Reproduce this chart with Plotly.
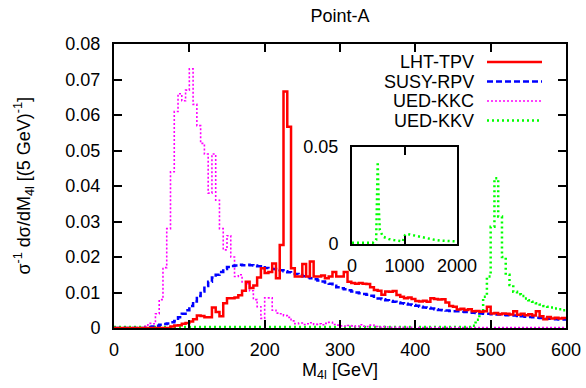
import plotly.graph_objects as go

# ---------------- data (5 GeV bins, left edges 0..595) ----------------
bin_left = list(range(0, 600, 5))

lht_tpv = [
    0, 0, 0, 0, 0, 0, 0, 0, 0, 0,
    0, 0, 0, 0, 0, 0.0004, 0.0007, 0.0008, 0.0012, 0.0014,
    0.0018, 0.0025, 0.0035, 0.0034, 0.003, 0.003, 0.0058, 0.0045, 0.0033, 0.007,
    0.0084, 0.0084, 0.0086, 0.0092, 0.0105, 0.013, 0.0113, 0.012, 0.0142, 0.0168,
    0.0155, 0.0158, 0.0182, 0.014, 0.0234, 0.0666, 0.0567, 0.0168, 0.0145, 0.0145,
    0.018, 0.0145, 0.0187, 0.0145, 0.0145, 0.0148, 0.014, 0.0145, 0.0158, 0.0145,
    0.0145, 0.0158, 0.013, 0.0127, 0.0125, 0.0127, 0.0125, 0.0124, 0.0115, 0.0107,
    0.0105, 0.0094, 0.0103, 0.0102, 0.0104, 0.0093, 0.0088, 0.0084, 0.0086, 0.0082,
    0.0076, 0.0075, 0.0077, 0.0074, 0.0084, 0.0082, 0.008, 0.0081, 0.0072, 0.0062,
    0.006, 0.0052, 0.0054, 0.0051, 0.0053, 0.0047, 0.0048, 0.0046, 0.0047, 0.006,
    0.0041, 0.0042, 0.0039, 0.0041, 0.004, 0.0038, 0.0047, 0.0037, 0.004, 0.0036,
    0.0039, 0.0035, 0.0047, 0.0033, 0.0025, 0.0031, 0.0027, 0.0029, 0.0027, 0.0028,
]

susy_rpv = [
    0, 0, 0, 0, 0, 0, 0, 0, 0, 0.0002,
    0.0004, 0.0006, 0.0009, 0.0011, 0.0013, 0.0016, 0.002, 0.003, 0.004, 0.005,
    0.0062, 0.0075, 0.009, 0.0103, 0.0118, 0.013, 0.0142, 0.015, 0.0158, 0.0166,
    0.0172, 0.0175, 0.0176, 0.0178, 0.0177, 0.0178, 0.0177, 0.0176, 0.0174, 0.0171,
    0.0169, 0.0167, 0.0166, 0.0165, 0.0163, 0.016, 0.0157, 0.0155, 0.0152, 0.0149,
    0.0146, 0.0143, 0.014, 0.0137, 0.0134, 0.0131, 0.0128, 0.0125, 0.0119, 0.0115,
    0.0112, 0.0109, 0.0106, 0.0103, 0.01, 0.0098, 0.0096, 0.0094, 0.0091, 0.0088,
    0.0083, 0.0081, 0.0078, 0.0076, 0.0074, 0.0072, 0.007, 0.0068, 0.0066, 0.0065,
    0.0063, 0.006, 0.0058, 0.0057, 0.0055, 0.0053, 0.0051, 0.005, 0.0049, 0.0048,
    0.0047, 0.0047, 0.0046, 0.0045, 0.0044, 0.0043, 0.0042, 0.0041, 0.004, 0.004,
    0.0039, 0.0038, 0.0038, 0.0037, 0.0036, 0.0035, 0.0035, 0.0034, 0.0033, 0.0032,
    0.0031, 0.003, 0.0029, 0.0028, 0.0027, 0.0026, 0.0025, 0.0025, 0.0024, 0.0024,
]

ued_kkc = [
    0, 0, 0, 0, 0, 0, 0, 0, 0.0005, 0.0013,
    0.0012, 0.004, 0.008, 0.017, 0.028, 0.044, 0.061, 0.066, 0.064, 0.067,
    0.073, 0.063, 0.057, 0.052, 0.049, 0.038, 0.049, 0.036, 0.028, 0.022,
    0.026, 0.02, 0.0145, 0.015, 0.013, 0.0125, 0.0105, 0.008, 0.006, 0.0027,
    0.0085, 0.0085, 0.005, 0.0042, 0.004, 0.0035, 0.003, 0.002, 0.0012, 0.0014,
    0.001, 0.0012, 0.0015, 0.001, 0.0012, 0.0009, 0.0013, 0.0016, 0.001, 0.0008,
    0.0006, 0.0005, 0.0007, 0.0006, 0.0004, 0.0009, 0.0005, 0.0004, 0.0008, 0.0004,
    0.0003, 0.0004, 0.0003, 0.0002, 0.0002, 0.0002, 0.0002, 0.0002, 0.0002, 0.0002,
    0.0001, 0.0001, 0.0001, 0.0001, 0.0001, 0.0001, 0.0001, 0.0001, 0.0001, 0.0001,
    0.0001, 0.0001, 0.0001, 0.0001, 0.0001, 0.0001, 0.0001, 0.0001, 0.0001, 0.0001,
    0.0001, 0.0001, 0.0001, 0.0001, 0.0001, 0.0001, 0.0001, 0.0001, 0.0001, 0.0001,
    0.0001, 0.0001, 0.0001, 0.0001, 0.0001, 0.0001, 0.0001, 0.0001, 0.0001, 0.0001,
]

# UED-KKV: flat tail below 475 GeV given as one wide bin, then 5 GeV bins
kkv_left = [0, 475, 480, 485, 490, 495, 500, 505, 510, 515, 520, 525, 530, 535,
            540, 545, 550, 555, 560, 565, 570, 575, 580, 585, 590, 595]
ued_kkv = [0.0003, 0.0006, 0.0023, 0.0046, 0.0088, 0.0145, 0.0285, 0.0422, 0.0314,
           0.02, 0.015, 0.0121, 0.0102, 0.0095, 0.009, 0.0083, 0.0078, 0.0074,
           0.007, 0.0066, 0.0062, 0.006, 0.0058, 0.0055, 0.0053, 0.005]

# inset: UED-KKV over full mass range
inset_m = [0, 100, 200, 300, 400, 460, 490, 510, 530, 590, 700, 800, 880, 970,
           990, 1040, 1100, 1230, 1420, 1550, 1680, 1800, 1970, 2000]
inset_kkv = [0.0006, 0.0006, 0.0006, 0.0006, 0.0007, 0.002, 0.0424, 0.019, 0.0072,
             0.0038, 0.0026, 0.002, 0.0017, 0.0014, 0.004, 0.0052, 0.0049, 0.0041,
             0.0029, 0.0023, 0.0018, 0.0015, 0.0013, 0.0013]

y_ticks = [0, 0.01, 0.02, 0.03, 0.04, 0.05, 0.06, 0.07, 0.08]
y_ticktext = ["0", "0.01", "0.02", "0.03", "0.04", "0.05", "0.06", "0.07", "0.08"]
x_ticks = [0, 100, 200, 300, 400, 500, 600]

series_names = ["LHT-TPV", "SUSY-RPV", "UED-KKC", "UED-KKV"]
series_colors = ["#ff0000", "#0000ff", "#ff00ff", "#00ff00"]
series_dash = ["solid", "6px,3px", "2px,2px", "2px,3px"]
series_width = [2.5, 2.5, 1.6, 2.5]

# ---------------- figure ----------------
FONT = "Liberation Sans, Arial, Helvetica, sans-serif"


def steps(left, vals, right_end):
    return left + [right_end], vals + [vals[-1]]


fig = go.Figure()
main_sets = [
    (bin_left, lht_tpv),
    (bin_left, susy_rpv),
    (bin_left, ued_kkc),
    (kkv_left, ued_kkv),
]
# draw order: KKV, KKC, SUSY, LHT (red on top)
for i in [3, 2, 1, 0]:
    xs, ys = steps(main_sets[i][0], main_sets[i][1], 600)
    fig.add_trace(go.Scatter(
        x=xs, y=ys, mode="lines", line_shape="hv", name=series_names[i],
        line=dict(color=series_colors[i], width=series_width[i], dash=series_dash[i]),
        showlegend=False, xaxis="x", yaxis="y",
    ))

fig.add_trace(go.Scatter(
    x=inset_m, y=inset_kkv, mode="lines", name="UED-KKV (full range)",
    line=dict(color=series_colors[3], width=2.5, dash=series_dash[3]),
    showlegend=False, xaxis="x2", yaxis="y2",
))

L, R, T, B = 114, 20, 44, 60
W, H = 586, 388
pw, ph = W - L - R, H - T - B


def px_to_paper_x(px):
    return (px - L) / pw


def px_to_paper_y(py):
    return (H - B - py) / ph


axis_common = dict(
    showline=True, linecolor="black", linewidth=2, mirror="ticks",
    ticks="inside", ticklen=8, tickwidth=1.5, tickcolor="black",
    showgrid=False, zeroline=False, automargin=False,
    tickfont=dict(family=FONT, size=18, color="black"),
)

fig.update_layout(
    width=W, height=H,
    margin=dict(l=L, r=R, t=T, b=B, autoexpand=False),
    paper_bgcolor="white", plot_bgcolor="white",
    font=dict(family=FONT, size=18, color="black"),
    title=dict(text="Point-A", x=0.5, xref="paper", y=1 - 16 / H, yref="container",
               xanchor="center", yanchor="middle",
               font=dict(family=FONT, size=18, color="black")),
    xaxis=dict(range=[0, 600], tickvals=x_ticks, domain=[0, 1],
               title=dict(text="M<sub>4l</sub> [GeV]", standoff=0,
                          font=dict(family=FONT, size=18)),
               ticklabelstandoff=4, **axis_common),
    yaxis=dict(range=[0, 0.08], tickvals=y_ticks, ticktext=y_ticktext, domain=[0, 1],
               ticklabelstandoff=8, **axis_common),
    xaxis2=dict(range=[0, 2000], tickvals=[0, 1000, 2000], anchor="y2",
                domain=[px_to_paper_x(352), px_to_paper_x(457)],
                ticklabelstandoff=4, **axis_common),
    yaxis2=dict(range=[0, 0.05], tickvals=[0, 0.05], ticktext=["0", "0.05"], anchor="x2",
                domain=[px_to_paper_y(244), px_to_paper_y(147)],
                ticklabelstandoff=8, **axis_common),
    showlegend=False,
)

# y-axis title placed as in the original (left edge of the rotated text near x=9 px)
fig.add_annotation(
    x=px_to_paper_x(9), y=px_to_paper_y(186), xref="paper", yref="paper",
    text="σ<sup>-1</sup> dσ/dM<sub>4l</sub> [(5 GeV)<sup>-1</sup>]",
    textangle=-90, showarrow=False, xanchor="left", yanchor="middle",
    font=dict(family=FONT, size=18, color="black"),
)

# legend (text right-aligned, sample line to the right, as in the original)
legend_rows_px = [62, 81.5, 101, 120.5]
for i in range(4):
    yp = px_to_paper_y(legend_rows_px[i])
    fig.add_annotation(
        x=px_to_paper_x(476), y=yp, xref="paper", yref="paper",
        text=series_names[i], showarrow=False, xanchor="right", yanchor="middle",
        font=dict(family=FONT, size=18, color="black"),
    )
    fig.add_shape(
        type="line", xref="paper", yref="paper",
        x0=px_to_paper_x(487), x1=px_to_paper_x(542), y0=yp, y1=yp,
        line=dict(color=series_colors[i], width=series_width[i], dash=series_dash[i]),
    )

fig.write_html("out.html", config={"displayModeBar": False},
               post_script="document.body.style.margin='0';")
